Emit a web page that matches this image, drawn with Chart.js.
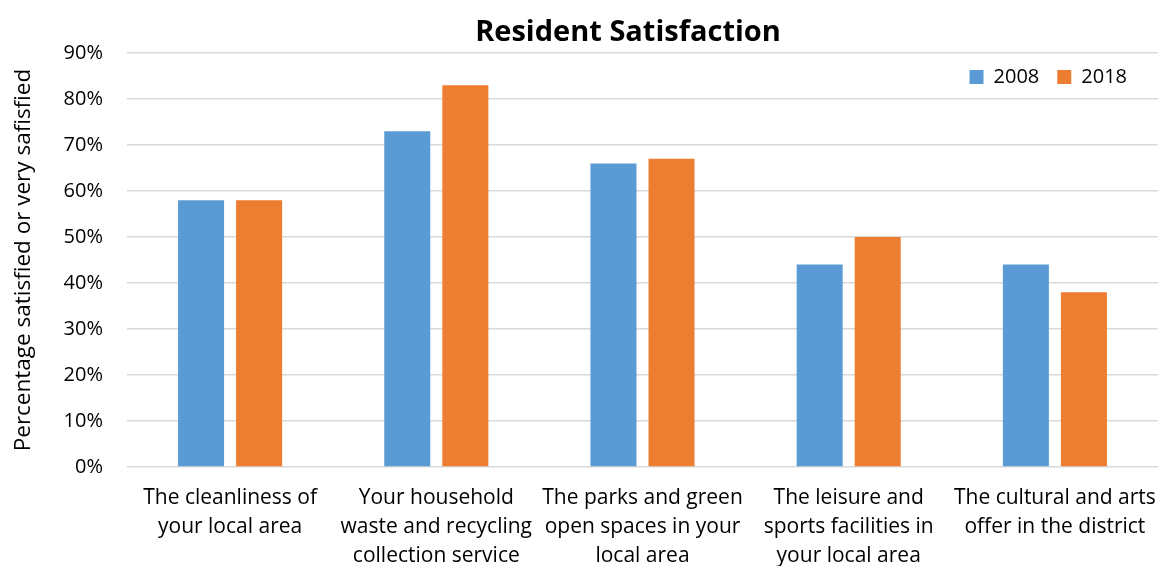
<!DOCTYPE html>
<html>
<head>
<meta charset="utf-8">
<script src="https://cdn.jsdelivr.net/npm/chart.js@4"></script>
<style>
html,body{margin:0;padding:0;background:#fff;}
#wrap{width:1158px;height:566px;}
</style>
</head>
<body>
<div id="wrap"><canvas id="c" width="1158" height="566"></canvas></div>
<script>
const chartTitle = "Resident Satisfaction";
const yAxisTitle = "Percentage satisfied or very safisfied";
const categories = [
  ["The cleanliness of", "your local area"],
  ["Your household", "waste and recycling", "collection service"],
  ["The parks and green", "open spaces in your", "local area"],
  ["The leisure and", "sports facilities in", "your local area"],
  ["The cultural and arts", "offer in the district"]
];
const seriesNames = ["2008", "2018"];
const values2008 = [58, 73, 66, 44, 44];
const values2018 = [58, 83, 67, 50, 38];
const yTicks = [0, 10, 20, 30, 40, 50, 60, 70, 80, 90];

const FONT = "'Open Sans', sans-serif";

const titlePlugin = {
  id: 'customTitle',
  afterDraw(chart) {
    const ctx = chart.ctx;
    ctx.save();
    ctx.font = "bold 29px " + FONT;
    ctx.fillStyle = "#000";
    ctx.textAlign = "center";
    ctx.textBaseline = "alphabetic";
    ctx.fillText(chartTitle, 628, 41);
    ctx.restore();
  }
};

// place the legend inside the plot area, top right
const legendInside = {
  id: 'legendInside',
  beforeDraw(chart) {
    const lg = chart.legend;
    if (lg) {
      const h = lg.bottom - lg.top;
      lg.top = chart.chartArea.top - 4;
      lg.bottom = lg.top + h;
      lg.right = chart.chartArea.right - 13;
    }
  }
};

new Chart(document.getElementById('c'), {
  type: 'bar',
  data: {
    labels: categories,
    datasets: [
      { label: seriesNames[0], data: values2008, backgroundColor: '#5B9BD5', borderWidth: 0 },
      { label: seriesNames[1], data: values2018, backgroundColor: '#ED7D31', borderWidth: 0 }
    ]
  },
  plugins: [titlePlugin, legendInside],
  options: {
    responsive: false,
    animation: false,
    devicePixelRatio: 1,
    categoryPercentage: 0.563,
    barPercentage: 0.793,
    layout: { padding: { top: 5, left: 0, right: 0, bottom: 0 } },
    plugins: {
      title: { display: false },
      tooltip: { enabled: false },
      legend: {
        position: 'top',
        align: 'end',
        labels: {
          boxWidth: 14,
          boxHeight: 14,
          padding: 18,
          color: '#000',
          font: { family: FONT, size: 20 }
        }
      }
    },
    scales: {
      x: {
        grid: { display: false, drawTicks: false },
        border: { display: false },
        ticks: {
          color: '#000',
          padding: 17,
          maxRotation: 0,
          autoSkip: false,
          font: { family: FONT, size: 21, lineHeight: 1.38 }
        },
        afterFit(scale) {
          scale.height = 99;
          scale.paddingLeft = 0;
          scale.paddingRight = 0;
        }
      },
      y: {
        min: 0,
        max: 90,
        afterBuildTicks(scale) { scale.ticks = yTicks.map(v => ({ value: v })); },
        grid: { color: '#d9d9d9', lineWidth: 1.5, drawTicks: false },
        border: { display: false },
        ticks: {
          color: '#000',
          padding: 24,
          font: { family: FONT, size: 20 },
          callback: v => v + '%'
        },
        title: {
          display: true,
          text: yAxisTitle,
          color: '#000',
          padding: { top: 10, bottom: 0 },
          font: { family: FONT, size: 22.5, lineHeight: 1.2 }
        },
        afterFit(scale) {
          scale.width = 127;
          scale.paddingTop = 0;
          scale.paddingBottom = 0;
        }
      }
    }
  }
});
</script>
</body>
</html>
